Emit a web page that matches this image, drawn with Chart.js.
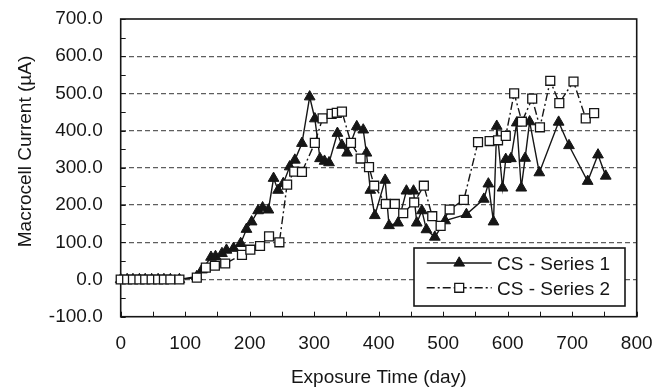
<!DOCTYPE html>
<html>
<head>
<meta charset="utf-8">
<title>Macrocell Current vs Exposure Time</title>
<script src="https://cdn.jsdelivr.net/npm/chart.js@4/dist/chart.umd.min.js"></script>
<style>
  html, body { margin: 0; padding: 0; background: #ffffff; }
  #chart { display: block; }
</style>
</head>
<body>
<canvas id="chart" width="654" height="388"></canvas>
<script>
// ---- data -------------------------------------------------------------
const seriesNames = ['CS - Series 1', 'CS - Series 2'];

const exposureDays1 = [0, 10, 19, 29, 38, 48, 58, 67, 77, 91,
  118, 126, 140, 147, 157, 164, 175, 186, 195, 203, 213, 220, 229, 237, 244, 252,
  262, 270, 281, 293, 301, 309, 316, 323, 336, 343, 351, 366, 376, 381, 387, 394,
  410, 416, 430, 443, 454, 459, 467, 474, 487, 503, 536, 563, 570, 578, 583, 592,
  597, 605, 614, 621, 627, 634, 649, 679, 695, 724, 740, 752];
const currentSeries1 = [0, 0, 0, 0, 0, 0, 0, 0, 0, 0,
  8, 26, 60, 62, 70, 79, 84, 97, 135, 155, 185, 193, 187, 272, 240, 258,
  303, 321, 366, 491, 432, 325, 318, 314, 393, 361, 340, 411, 402, 340, 240, 172,
  267, 145, 152, 238, 238, 152, 185, 134, 114, 158, 175, 216, 257, 155, 412, 246,
  323, 325, 421, 246, 326, 424, 287, 423, 360, 264, 335, 278];

const exposureDays2 = [0, 10, 19, 29, 38, 48, 58, 67, 77, 91,
  118, 132, 146, 162, 188, 201, 216, 230, 246, 258, 269, 281, 301, 313, 327, 335,
  343, 357, 372, 385, 393, 411, 425, 438, 455, 470, 483, 496, 510, 532, 554, 572,
  585, 597, 610, 622, 638, 650, 666, 680, 702, 721, 734];
const currentSeries2 = [0, 0, 0, 0, 0, 0, 0, 0, 0, 0,
  5, 32, 37, 43, 66, 80, 90, 116, 100, 255, 290, 289, 367, 433, 445, 448,
  451, 367, 325, 302, 252, 203, 203, 178, 207, 252, 170, 144, 188, 214, 369, 372,
  374, 386, 500, 424, 486, 409, 534, 474, 532, 433, 447];

const dayTicks = [0, 100, 200, 300, 400, 500, 600, 700, 800];
const currentTicks = [-100, 0, 100, 200, 300, 400, 500, 600, 700];

const xTitle = 'Exposure Time (day)';
const yTitle = 'Macrocell Current (\u00B5A)';

// ---- styling ----------------------------------------------------------
const FONT = "'Liberation Sans', Arial, Helvetica, sans-serif";
const INK = '#161616';
const GRID = '#5e5e5e';

const toPoints = (xs, ys) => xs.map((d, i) => ({ x: d, y: ys[i] }));

// plot frame and small inward tick marks every 50 units
const framePlugin = {
  id: 'frame',
  beforeDatasetsDraw(chart) {
    const { ctx, chartArea: a, scales: { x, y } } = chart;
    ctx.save();
    ctx.strokeStyle = INK;
    ctx.lineWidth = 1;
    ctx.beginPath();
    for (let v = x.min; v <= x.max; v += 50) {
      const px = Math.round(x.getPixelForValue(v)) + 0.5;
      ctx.moveTo(px, a.bottom);
      ctx.lineTo(px, a.bottom - 5);
    }
    for (let v = y.min; v <= y.max; v += 50) {
      const py = Math.round(y.getPixelForValue(v)) + 0.5;
      ctx.moveTo(a.left, py);
      ctx.lineTo(a.left + 5, py);
    }
    ctx.stroke();
    ctx.lineWidth = 1.6;
    ctx.strokeRect(a.left, a.top, a.right - a.left, a.bottom - a.top);
    ctx.restore();
  }
};

// axis titles and the boxed legend in the lower right of the plot
const annotatePlugin = {
  id: 'annotate',
  afterDraw(chart) {
    const { ctx, chartArea: a } = chart;
    ctx.save();
    ctx.fillStyle = INK;
    ctx.font = `19px ${FONT}`;
    ctx.textBaseline = 'alphabetic';

    ctx.textAlign = 'center';
    ctx.fillText(xTitle, (a.left + a.right) / 2, 383);

    ctx.save();
    ctx.translate(31, 151.5);
    ctx.rotate(-Math.PI / 2);
    ctx.fillText(yTitle, 0, 0);
    ctx.restore();

    const w = 211, h = 58;
    const bx = a.right - 11.7 - w;
    const by = a.bottom - 10.7 - h;
    ctx.fillStyle = '#ffffff';
    ctx.fillRect(bx, by, w, h);
    ctx.strokeStyle = INK;
    ctx.lineWidth = 1.6;
    ctx.strokeRect(bx, by, w, h);

    chart.data.datasets.forEach((ds, i) => {
      const cy = by + 15 + i * 24.8;
      const x0 = bx + 12.7, x1 = bx + 77.7;
      ctx.setLineDash(ds.borderDash || []);
      ctx.lineWidth = ds.borderWidth;
      ctx.strokeStyle = ds.borderColor;
      ctx.beginPath();
      ctx.moveTo(x0, cy);
      ctx.lineTo(x1, cy);
      ctx.stroke();
      ctx.setLineDash([]);
      ctx.fillStyle = ds.pointBackgroundColor;
      ctx.strokeStyle = ds.pointBorderColor;
      ctx.lineWidth = ds.pointBorderWidth;
      Chart.helpers.drawPoint(ctx, {
        pointStyle: ds.pointStyle, radius: ds.pointRadius,
        borderWidth: ds.pointBorderWidth, rotation: 0
      }, (x0 + x1) / 2, cy);
      ctx.fillStyle = INK;
      ctx.textAlign = 'left';
      ctx.fillText(ds.label, bx + 83, cy + 6.8);
    });
    ctx.restore();
  }
};

new Chart(document.getElementById('chart'), {
  type: 'line',
  data: {
    datasets: [
      {
        label: seriesNames[0],
        data: toPoints(exposureDays1, currentSeries1),
        borderColor: INK,
        borderWidth: 1.4,
        pointStyle: 'triangle',
        pointRadius: 6.2,
        pointBackgroundColor: INK,
        pointBorderColor: INK,
        pointBorderWidth: 1,
        tension: 0,
        clip: false,
        order: 2
      },
      {
        label: seriesNames[1],
        data: toPoints(exposureDays2, currentSeries2),
        borderColor: INK,
        borderWidth: 1.4,
        borderDash: [8, 3, 2, 3],
        pointStyle: 'rect',
        pointRadius: 6.3,
        pointBackgroundColor: '#ffffff',
        pointBorderColor: INK,
        pointBorderWidth: 1.3,
        tension: 0,
        clip: false,
        order: 1
      }
    ]
  },
  options: {
    responsive: false,
    animation: false,
    devicePixelRatio: 1,
    layout: { padding: { top: 19, right: 17.3, bottom: 0, left: 0 } },
    plugins: { legend: { display: false }, tooltip: { enabled: false } },
    scales: {
      x: {
        type: 'linear',
        min: 0,
        max: 800,
        afterBuildTicks: s => { s.ticks = dayTicks.map(v => ({ value: v })); },
        afterFit: s => { s.height = 71.3; s.paddingLeft = 0; s.paddingRight = 0; },
        ticks: {
          autoSkip: false,
          maxRotation: 0,
          padding: 16,
          color: INK,
          font: { family: FONT, size: 19 },
          callback: v => String(v)
        },
        grid: { display: false, drawTicks: false },
        border: { display: false }
      },
      y: {
        type: 'linear',
        min: -100,
        max: 700,
        afterBuildTicks: s => { s.ticks = currentTicks.map(v => ({ value: v })); },
        afterFit: s => { s.width = 120.7; s.paddingTop = 0; s.paddingBottom = 0; },
        ticks: {
          padding: 18,
          color: INK,
          font: { family: FONT, size: 19 },
          callback: v => Number(v).toFixed(1)
        },
        grid: {
          drawTicks: false,
          lineWidth: 1.3,
          color: c => (c.tick && (c.tick.value === -100 || c.tick.value === 700)) ? 'rgba(0,0,0,0)' : GRID
        },
        border: { display: false, dash: [5, 3] }
      }
    }
  },
  plugins: [framePlugin, annotatePlugin]
});
</script>
</body>
</html>
